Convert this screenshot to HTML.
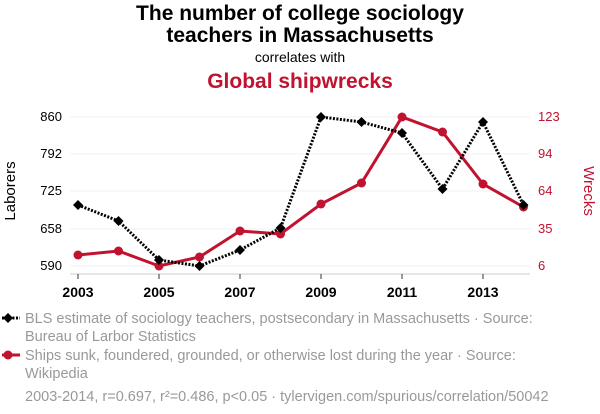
<!DOCTYPE html>
<html><head><style>body{margin:0;background:#fff;}svg{display:block}</style></head><body>
<svg width="600" height="414" xmlns="http://www.w3.org/2000/svg" font-family="Liberation Sans, sans-serif">
<text x="300" y="20" text-anchor="middle" font-size="21" font-weight="bold" fill="#000">The number of college sociology</text>
<text x="300" y="42" text-anchor="middle" font-size="21" font-weight="bold" fill="#000">teachers in Massachusetts</text>
<text x="300" y="62" text-anchor="middle" font-size="14" fill="#000">correlates with</text>
<text x="300" y="88" text-anchor="middle" font-size="21" font-weight="bold" fill="#c1122f">Global shipwrecks</text>
<g stroke="#f0f0f0" stroke-width="1">
<line x1="70" x2="530" y1="117" y2="117"/><line x1="70" x2="530" y1="154" y2="154"/><line x1="70" x2="530" y1="191" y2="191"/><line x1="70" x2="530" y1="229" y2="229"/><line x1="70" x2="530" y1="266" y2="266"/>
</g>
<line x1="70" x2="530" y1="274" y2="274" stroke="#ccc"/>
<g font-size="13" fill="#000" text-anchor="end">
<text x="62" y="121">860</text><text x="62" y="158">792</text><text x="62" y="195">725</text><text x="62" y="233">658</text><text x="62" y="270">590</text>
</g>
<g font-size="13" fill="#c1122f" text-anchor="start">
<text x="538" y="121">123</text><text x="538" y="158">94</text><text x="538" y="195">64</text><text x="538" y="233">35</text><text x="538" y="270">6</text>
</g>
<text transform="translate(15,191) rotate(-90)" text-anchor="middle" font-size="15" fill="#000">Laborers</text>
<text transform="translate(584,191) rotate(90)" text-anchor="middle" font-size="15" fill="#c1122f">Wrecks</text>
<g font-size="14" font-weight="bold" text-anchor="middle" fill="#000">
<text x="78" y="297">2003</text><text x="159" y="297">2005</text><text x="240" y="297">2007</text><text x="321" y="297">2009</text><text x="402" y="297">2011</text><text x="483" y="297">2013</text>
</g>
<g stroke="#333" stroke-width="1">
<line x1="78" x2="78" y1="274" y2="279"/><line x1="159" x2="159" y1="274" y2="279"/><line x1="240" x2="240" y1="274" y2="279"/><line x1="321" x2="321" y1="274" y2="279"/><line x1="402" x2="402" y1="274" y2="279"/><line x1="483" x2="483" y1="274" y2="279"/>
</g>
<polyline fill="none" stroke="#c1122f" stroke-width="3" points="78,255 118.5,251 159,266 199.5,257 240,231 280.5,234 321,204 361.5,183 402,117 442.5,132 483,184 523.5,207"/>
<g fill="#c1122f">
<circle cx="78" cy="255" r="4.5"/><circle cx="118.5" cy="251" r="4.5"/><circle cx="159" cy="266" r="4.5"/><circle cx="199.5" cy="257" r="4.5"/><circle cx="240" cy="231" r="4.5"/><circle cx="280.5" cy="234" r="4.5"/><circle cx="321" cy="204" r="4.5"/><circle cx="361.5" cy="183" r="4.5"/><circle cx="402" cy="117" r="4.5"/><circle cx="442.5" cy="132" r="4.5"/><circle cx="483" cy="184" r="4.5"/><circle cx="523.5" cy="207" r="4.5"/>
</g>
<polyline fill="none" stroke="#000" stroke-width="3" stroke-dasharray="2,1.5" points="78,205 118.5,221 159,260 199.5,266 240,250 280.5,228 321,117 361.5,122 402,133 442.5,189 483,122 523.5,205"/>
<g fill="#000">
<path d="M78 200l5 5-5 5-5-5z"/><path d="M118.5 216l5 5-5 5-5-5z"/><path d="M159 255l5 5-5 5-5-5z"/><path d="M199.5 261l5 5-5 5-5-5z"/><path d="M240 245l5 5-5 5-5-5z"/><path d="M280.5 223l5 5-5 5-5-5z"/><path d="M321 112l5 5-5 5-5-5z"/><path d="M361.5 117l5 5-5 5-5-5z"/><path d="M402 128l5 5-5 5-5-5z"/><path d="M442.5 184l5 5-5 5-5-5z"/><path d="M483 117l5 5-5 5-5-5z"/><path d="M523.5 200l5 5-5 5-5-5z"/>
</g>
<line x1="2" x2="20" y1="318" y2="318" stroke="#000" stroke-width="3" stroke-dasharray="2,1.5"/>
<path d="M8 313l5 5-5 5-5-5z" fill="#000"/>
<text x="25" y="323" font-size="14.5" fill="#999">BLS estimate of sociology teachers, postsecondary in Massachusetts · Source:</text>
<text x="25" y="341" font-size="14.5" fill="#999">Bureau of Larbor Statistics</text>
<line x1="2" x2="20" y1="355" y2="355" stroke="#c1122f" stroke-width="3"/>
<circle cx="8" cy="355" r="4.5" fill="#c1122f"/>
<text x="25" y="360" font-size="14.5" fill="#999">Ships sunk, foundered, grounded, or otherwise lost during the year · Source:</text>
<text x="25" y="378" font-size="14.5" fill="#999">Wikipedia</text>
<text x="25" y="401" font-size="14.5" fill="#999">2003-2014, r=0.697, r²=0.486, p&lt;0.05 · tylervigen.com/spurious/correlation/50042</text>
</svg>
</body></html>
